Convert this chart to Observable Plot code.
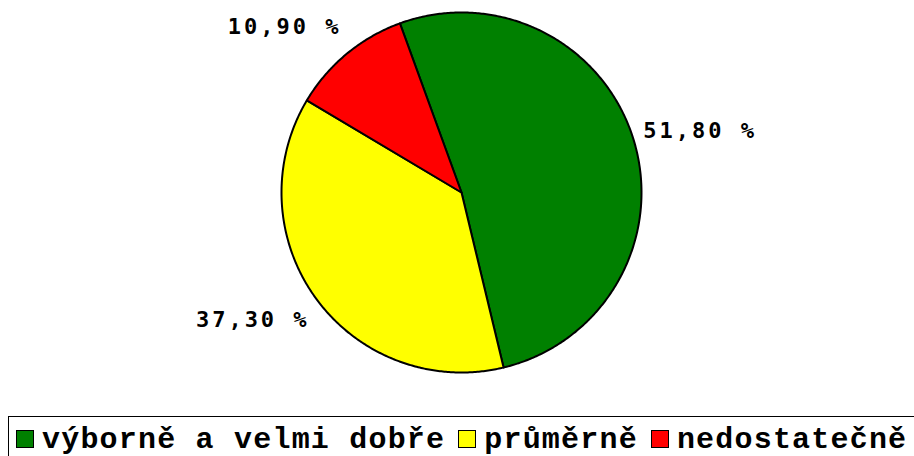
<!DOCTYPE html>
<html><head><meta charset="utf-8">
<script src="https://cdn.jsdelivr.net/npm/d3@7"></script>
<script src="https://cdn.jsdelivr.net/npm/@observablehq/plot@0.6"></script>
<style>
body{margin:0;background:#fff;width:914px;height:456px;overflow:hidden;}
#chart svg{display:block;}
#chart svg text{letter-spacing:3px;}
.legend{position:absolute;left:8px;top:416px;width:1000px;border-top:1px solid #000;border-left:1px solid #000;height:60px;
  font-family:"Liberation Mono",monospace;font-weight:bold;font-size:30px;line-height:32px;letter-spacing:1.2px;white-space:nowrap;padding:7px 0 0 7px;box-sizing:border-box;}
.legend span.sw{display:inline-block;width:16px;height:16px;border:1px solid #000;margin-right:8px;vertical-align:baseline;}
.legend span.item{margin-right:13px;}
</style>
</head><body><div id="chart"></div><script>
const categories = ["výborně a velmi dobře", "průměrně", "nedostatečně"];
const values = [51.8, 37.3, 10.9];
const labels = ["51,80 %", "37,30 %", "10,90 %"];
const colors = ["#008000", "#ffff00", "#ff0000"];
const startAngleDeg = -20;

const H = 410, W = 914, R = 180, CX = 461, CY = 192;
const arcs = d3.pie().sort(null).startAngle(startAngleDeg * Math.PI / 180).value(d => d)(values);
const pts = [];
arcs.forEach((a, i) => {
  const cat = categories[i];
  const n = Math.max(2, Math.ceil((a.endAngle - a.startAngle) / (Math.PI / 360)));
  pts.push({cat, x: 0, y: 0});
  for (let k = 0; k <= n; k++) {
    const t = a.startAngle + (a.endAngle - a.startAngle) * k / n;
    pts.push({cat, x: Math.sin(t), y: Math.cos(t)});
  }
  pts.push({cat, x: 0, y: 0});
});
const lab = arcs.map((a, i) => {
  const m = (a.startAngle + a.endAngle) / 2;
  return {text: labels[i], x: Math.sin(m) * 1.055, y: Math.cos(m) * 1.195, right: Math.sin(m) >= 0};
});

const plot = Plot.plot({
  width: W, height: H, margin: 0,
  x: {axis: null, domain: [-CX / R, (W - CX) / R], range: [0, W]},
  y: {axis: null, domain: [-(H - CY) / R, CY / R], range: [H, 0]},
  color: {domain: categories, range: colors},
  marks: [
    Plot.line(pts, {x: "x", y: "y", z: "cat", fill: "cat", stroke: "black", strokeWidth: 2, strokeLinejoin: "round"}),
    Plot.text(lab, {filter: d => d.right, x: "x", y: "y", text: "text", textAnchor: "start", fontFamily: "DejaVu Sans Mono", fontWeight: "bold", fontSize: 22, fill: "black"}),
    Plot.text(lab, {filter: d => !d.right, x: "x", y: "y", text: "text", textAnchor: "end", dx: 1, fontFamily: "DejaVu Sans Mono", fontWeight: "bold", fontSize: 22, fill: "black"})
  ]
});
document.getElementById("chart").appendChild(plot);

const leg = document.createElement("div");
leg.className = "legend";
categories.forEach((c, i) => {
  const it = document.createElement("span");
  it.className = "item";
  const sw = document.createElement("span");
  sw.className = "sw";
  sw.style.background = colors[i];
  it.appendChild(sw);
  it.appendChild(document.createTextNode(c));
  leg.appendChild(it);
});
document.body.appendChild(leg);
</script></body></html>
